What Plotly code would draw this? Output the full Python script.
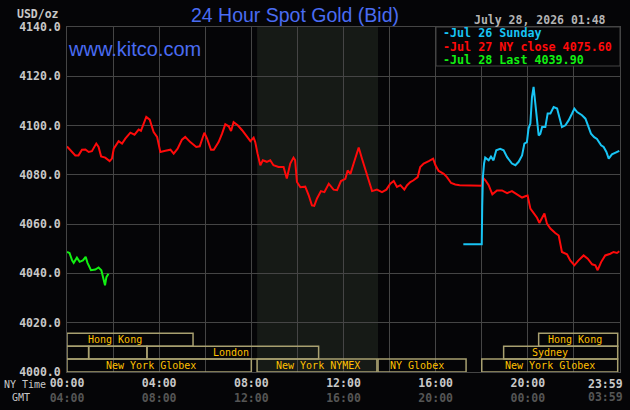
import plotly.graph_objects as go

# ---------------- data ----------------
red_hours = [0.00, 0.14, 0.36, 0.50, 0.65, 0.80, 0.94, 1.08, 1.27, 1.37, 1.48, 1.66, 1.85, 1.95, 2.03, 2.24, 2.39, 2.53,
             2.75, 2.93, 3.11, 3.21, 3.33, 3.44, 3.59, 3.76, 3.91, 4.05, 4.27, 4.49, 4.63, 4.80, 4.99, 5.13, 5.35, 5.61,
             5.76, 5.96, 6.08, 6.25, 6.37, 6.58, 6.73, 6.87, 7.02, 7.12, 7.23, 7.41, 7.60, 7.81, 7.96, 8.10, 8.17, 8.27,
             8.39, 8.50, 8.67, 8.82, 8.96, 9.18, 9.40, 9.54, 9.69, 9.83, 9.90, 9.98, 10.13, 10.34, 10.49, 10.63, 10.73,
             10.85, 11.02, 11.17, 11.36, 11.57, 11.72, 11.89, 12.08, 12.18, 12.30, 12.44, 12.56, 12.66, 12.80, 12.95,
             13.09, 13.24, 13.45, 13.67, 13.86, 14.03, 14.18, 14.32, 14.47, 14.64, 14.76, 14.90, 15.04, 15.22, 15.33,
             15.48, 15.70, 15.89, 15.99, 16.13, 16.35, 16.49, 16.67, 16.85, 17.04, 17.50, 18.00, 18.05, 18.16, 18.30,
             18.46, 18.66, 18.88, 19.10, 19.31, 19.53, 19.75, 19.89, 19.99, 20.11, 20.25, 20.40, 20.50, 20.62, 20.72,
             20.83, 20.98, 21.19, 21.34, 21.48, 21.70, 21.84, 22.02, 22.20, 22.42, 22.60, 22.79, 22.93, 23.03, 23.18,
             23.36, 23.58, 23.72, 23.87, 23.97]
red_values = [4091.5, 4090.2, 4087.9, 4087.9, 4090.2, 4090.3, 4089.3, 4089.6, 4092.7, 4091.3, 4087.5, 4087.0, 4085.6,
              4086.6, 4090.6, 4093.7, 4092.7, 4094.7, 4097.1, 4096.3, 4098.4, 4097.9, 4100.8, 4103.5, 4102.4, 4097.4,
              4095.4, 4089.3, 4089.8, 4090.2, 4088.6, 4090.6, 4094.3, 4095.4, 4093.3, 4091.3, 4091.6, 4097.1, 4094.7,
              4090.2, 4090.2, 4093.3, 4096.7, 4100.5, 4099.7, 4097.8, 4101.4, 4100.1, 4098.1, 4095.4, 4093.7, 4095.1,
              4093.3, 4088.6, 4083.9, 4085.9, 4085.3, 4085.9, 4083.9, 4083.2, 4083.2, 4078.5, 4084.6, 4087.0, 4086.0,
              4077.1, 4075.0, 4075.2, 4071.7, 4067.6, 4067.4, 4070.4, 4073.4, 4073.0, 4076.4, 4074.0, 4073.8, 4077.5,
              4078.4, 4081.8, 4080.4, 4084.6, 4088.6, 4091.1, 4086.6, 4081.8, 4077.8, 4073.4, 4074.0, 4073.0, 4074.0,
              4076.4, 4077.5, 4075.1, 4075.8, 4074.0, 4075.8, 4077.1, 4077.8, 4079.1, 4083.2, 4084.6, 4085.6, 4086.6,
              4083.9, 4081.6, 4080.4, 4079.1, 4076.7, 4076.1, 4075.8, 4075.6, 4075.6, 4078.9, 4077.8, 4075.8, 4072.1,
              4073.7, 4073.7, 4072.6, 4073.4, 4072.1, 4070.8, 4071.3, 4071.6, 4066.3, 4064.5, 4062.6, 4060.5, 4062.9,
              4064.3, 4060.2, 4058.2, 4056.4, 4055.4, 4048.7, 4047.8, 4045.3, 4043.3, 4045.3, 4047.3, 4046.0, 4043.7,
              4043.3, 4041.3, 4044.6, 4047.3, 4048.0, 4048.7, 4048.3, 4049.0]

cyan_hours = [17.20, 18.00, 18.02, 18.05, 18.10, 18.15, 18.30, 18.40, 18.51, 18.63, 18.80, 18.95, 19.10, 19.31, 19.46,
              19.60, 19.75, 19.85, 19.96, 20.03, 20.11, 20.18, 20.25, 20.33, 20.40, 20.47, 20.54, 20.62, 20.76, 20.86,
              20.98, 21.12, 21.27, 21.38, 21.48, 21.63, 21.77, 21.92, 22.02, 22.14, 22.35, 22.50, 22.64, 22.74, 22.88,
              23.00, 23.18, 23.29, 23.41, 23.51, 23.65, 23.87, 23.97]
cyan_values = [4051.8, 4051.8, 4067.0, 4079.1, 4084.6, 4087.0, 4085.9, 4087.4, 4085.9, 4090.0, 4090.6, 4090.0, 4087.2,
               4084.6, 4083.9, 4085.3, 4087.9, 4092.7, 4093.3, 4098.8, 4100.8, 4111.6, 4115.7, 4108.9, 4103.5, 4096.0,
               4096.6, 4099.4, 4099.4, 4104.9, 4104.9, 4107.5, 4106.9, 4102.8, 4099.4, 4100.1, 4102.1, 4104.9, 4106.9,
               4105.5, 4104.2, 4102.8, 4099.4, 4096.7, 4095.3, 4094.6, 4092.0, 4091.3, 4089.3, 4086.6, 4088.3, 4089.3,
               4089.7]

green_hours = [0.00, 0.11, 0.22, 0.29, 0.43, 0.55, 0.69, 0.81, 0.89, 1.04, 1.23, 1.37, 1.49, 1.59, 1.65, 1.71, 1.76, 1.80]
green_values = [4048.7, 4048.3, 4045.3, 4044.3, 4046.4, 4044.7, 4045.3, 4046.7, 4044.3, 4041.3, 4041.6, 4042.4, 4041.3,
                4037.2, 4035.2, 4038.5, 4039.2, 4039.9]

legend_texts = ["-Jul 26 Sunday", "-Jul 27 NY close 4075.60", "-Jul 28 Last 4039.90"]
series_colors = ["#18c4f4", "#ff0a0a", "#12ef12"]

ny_ticks = ["00:00", "", "04:00", "", "08:00", "", "12:00", "", "16:00", "", "20:00", "", ""]
gmt_ticks = ["04:00", "", "08:00", "", "12:00", "", "16:00", "", "20:00", "", "00:00", "", ""]
tick_hours = [0, 2, 4, 6, 8, 10, 12, 14, 16, 18, 20, 22, 24]
last_ny_tick, last_gmt_tick = "23:59", "03:59"

y_ticks = [4000, 4020, 4040, 4060, 4080, 4100, 4120, 4140]

# trading sessions (row 0 = top row)
session_names = ["Hong Kong", "Hong Kong", "", "", "London", "Sydney",
                 "New York Globex", "New York NYMEX", "NY Globex", "New York Globex"]
session_starts = [0.0, 20.47, 0.0, 0.94, 3.47, 18.95, 0.0, 8.25, 13.5, 18.0]
session_ends = [5.47, 23.9, 0.94, 3.47, 10.92, 23.9, 8.0, 13.45, 17.32, 23.9]
session_rows = [0, 0, 1, 1, 1, 1, 2, 2, 2, 2]
session_label_x = [2.1, 22.03, 0, 0, 7.13, 20.95, 3.63, 10.88, 15.17, 20.95]

nymex_shade = (8.25, 13.5)

# ---------------- figure ----------------
BG = "#050507"
GRID = "#454545"
L, R, T, B = 67, 620, 27, 372
W, H = R - L, B - T


def px(x):
    return (x - L) / W


def py(y):
    return (B - y) / H


fig = go.Figure()
fig.add_trace(go.Scatter(x=red_hours, y=red_values, mode="lines",
                         line=dict(color=series_colors[1], width=2), hoverinfo="skip"))
fig.add_trace(go.Scatter(x=cyan_hours, y=cyan_values, mode="lines",
                         line=dict(color=series_colors[0], width=2), hoverinfo="skip"))
fig.add_trace(go.Scatter(x=green_hours, y=green_values, mode="lines",
                         line=dict(color=series_colors[2], width=2), hoverinfo="skip"))

shapes = []
shapes.append(dict(type="rect", xref="x", yref="paper", x0=nymex_shade[0], x1=nymex_shade[1], y0=0, y1=1,
                   fillcolor="#161a16", line=dict(width=0), layer="below"))

row_h = 5.25
for name, s, e, r in zip(session_names, session_starts, session_ends, session_rows):
    y1 = 4000 + (3 - r) * row_h
    y0 = y1 - row_h
    shapes.append(dict(type="rect", xref="x", yref="y", x0=s, x1=e, y0=y0, y1=y1,
                       line=dict(color="#a8a070", width=1.5), fillcolor="rgba(0,0,0,0)", layer="above"))

# legend box
shapes.append(dict(type="rect", xref="paper", yref="paper", x0=px(436), x1=1, y0=py(66), y1=1,
                   fillcolor=BG, line=dict(color=GRID, width=1), layer="above"))

annotations = []
for name, lx, r in zip(session_names, session_label_x, session_rows):
    if not name:
        continue
    yc = 4000 + (3 - r) * row_h - row_h / 2
    annotations.append(dict(x=lx, y=yc, xref="x", yref="y", text=name, showarrow=False,
                            xanchor="center", yanchor="middle",
                            font=dict(family="DejaVu Sans Mono", size=10, color="#ffc000")))

legend_y = [32.8, 46.6, 59.6]
for txt, col, ly in zip(legend_texts, series_colors, legend_y):
    annotations.append(dict(x=px(441), y=py(ly), xref="paper", yref="paper", text=txt, showarrow=False,
                            xanchor="left", yanchor="middle",
                            font=dict(family="DejaVu Sans Mono", size=11.7, color=col, weight="bold")))

annotations += [
    dict(x=px(608), y=py(20), xref="paper", yref="paper", text="July 28, 2026 01:48", showarrow=False,
         xanchor="right", yanchor="middle",
         font=dict(family="DejaVu Sans Mono", size=11.5, color="#b4b4b4", weight="bold")),
    dict(x=px(61), y=py(14), xref="paper", yref="paper", text="USD/oz", showarrow=False,
         xanchor="right", yanchor="middle",
         font=dict(family="DejaVu Sans Mono", size=11.5, color="#c8c8c8", weight="bold")),
    dict(x=px(66), y=py(49), xref="paper", yref="paper", text="www.kitco.com", showarrow=False,
         xanchor="left", yanchor="middle",
         font=dict(family="Liberation Sans", size=20, color="#4a6cf2")),
    dict(x=px(2), y=py(384), xref="paper", yref="paper", text="NY Time", showarrow=False,
         xanchor="left", yanchor="middle",
         font=dict(family="DejaVu Sans Mono", size=10, color="#c8c8c8")),
    dict(x=px(10), y=py(397), xref="paper", yref="paper", text="GMT", showarrow=False,
         xanchor="left", yanchor="middle",
         font=dict(family="DejaVu Sans Mono", size=10, color="#c8c8c8")),
    dict(x=24, y=py(384), xref="x", yref="paper", text=last_ny_tick, showarrow=False,
         xanchor="right", yanchor="middle", xshift=5,
         font=dict(family="DejaVu Sans Mono", size=11.5, color="#c8c8c8", weight="bold")),
    dict(x=24, y=py(397), xref="x", yref="paper", text=last_gmt_tick, showarrow=False,
         xanchor="right", yanchor="middle", xshift=5,
         font=dict(family="DejaVu Sans Mono", size=11.5, color="#555555", weight="bold")),
]

tick_text = [f"{a}<br><span style='color:#555555'>{b}</span>" if a else "" for a, b in zip(ny_ticks, gmt_ticks)]

fig.update_layout(
    width=630, height=410,
    margin=dict(l=L, r=630 - R, t=T, b=410 - B, pad=0),
    paper_bgcolor=BG, plot_bgcolor=BG,
    showlegend=False,
    title=dict(text="24 Hour Spot Gold (Bid)", x=295 / 630, y=1 - 15.5 / 410, xanchor="center", yanchor="middle",
               font=dict(family="Liberation Sans", size=19.5, color="#4a6cf2")),
    xaxis=dict(range=[0, 24], tickvals=tick_hours, ticktext=tick_text, showgrid=True, gridcolor=GRID, gridwidth=1,
               zeroline=False, showline=True, linecolor=GRID, mirror=True, ticks="", automargin=False,
               tickfont=dict(family="DejaVu Sans Mono", size=11.5, color="#c8c8c8", weight="bold")),
    yaxis=dict(range=[4000, 4140], tickvals=y_ticks, tickformat=".1f", showgrid=True, gridcolor=GRID, gridwidth=1,
               zeroline=False, showline=True, linecolor=GRID, mirror=True, ticks="", automargin=False,
               ticklabelstandoff=3,
               tickfont=dict(family="DejaVu Sans Mono", size=11.5, color="#c8c8c8", weight="bold")),
    shapes=shapes,
    annotations=annotations,
)

fig.write_html("out.html")
